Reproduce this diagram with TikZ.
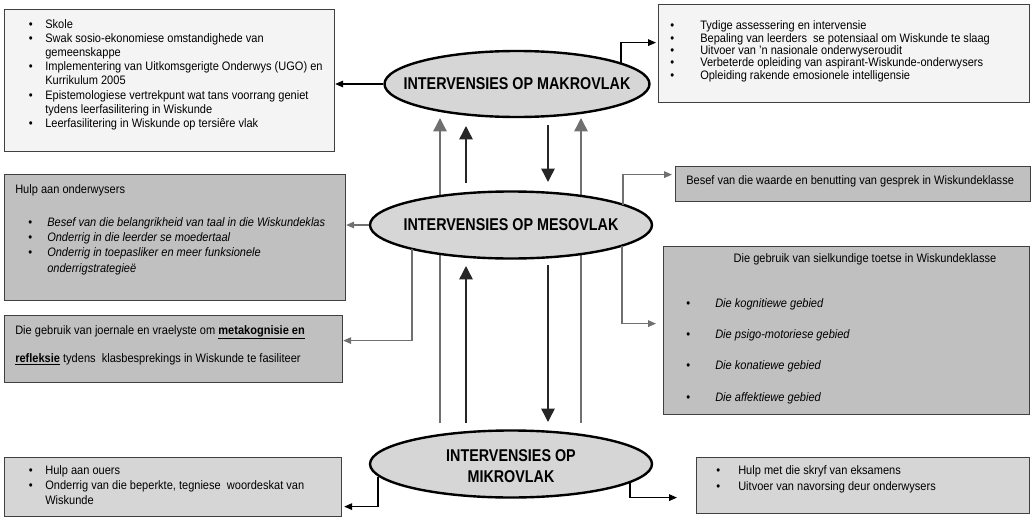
\documentclass[tikz,border=0pt]{standalone}
\usepackage{fontspec}
\setmainfont{Liberation Sans}[FakeStretch=0.9]
\newfontfamily\levelfont{Liberation Sans}[FakeStretch=0.84]
\usepackage{array}
\usetikzlibrary{arrows.meta, shapes.geometric, backgrounds}

\definecolor{lightfill}{HTML}{F4F4F4}
\definecolor{midfill}{HTML}{C0C0C0}
\definecolor{palefill}{HTML}{D6D6D6}
\definecolor{boxline}{HTML}{404040}
\definecolor{linkgray}{HTML}{707070}

\newcommand{\boxfont}[1]{\fontsize{9.2}{#1}\selectfont}

\tikzset{
  infobox/.style={draw=boxline, line width=0.9pt, rectangle, anchor=north west, inner sep=0pt},
  levelnode/.style={ellipse, draw=black, line width=1.8pt, fill=palefill, inner sep=0pt,
    font=\levelfont\fontsize{12.8}{15.75}\selectfont\bfseries},
  itemtext/.style={anchor=north west, inner sep=0pt},
  bigarrow/.style={-{Triangle[length=10pt,width=10pt]}, line width=1.1pt, black!85},
  grayup/.style={-{Triangle[length=10pt,width=10pt]}, line width=1.1pt, linkgray},
  sidearrow/.style={-{Triangle[length=6pt,width=5pt]}, line width=0.8pt},
}

\begin{document}
\begin{tikzpicture}[x=0.75pt, y=-0.75pt]
            \useasboundingbox (0,0) rectangle (1032,518);

            \node[levelnode, minimum width=198.75pt, minimum height=49.5pt] at (517,84)  (makro) {\makebox[0pt]{INTERVENSIES OP MAKROVLAK}};
            \node[levelnode, minimum width=211.5pt, minimum height=50.25pt] at (511,225) (meso)  {\makebox[0pt]{INTERVENSIES OP MESOVLAK}};
            \node[levelnode, minimum width=211.5pt, minimum height=50.25pt] at (511,464) (mikro) {\makebox[0pt]{\raisebox{-3pt}[\height][\depth]{\begin{tabular}{@{}c@{}}INTERVENSIES OP\\MIKROVLAK\end{tabular}}}};

            \node[infobox, fill=lightfill, minimum width=247.5pt,  minimum height=106.5pt] at (4,9)     (b1) {};
            \node[infobox, fill=lightfill, minimum width=278.25pt, minimum height=73.5pt]  at (658,4)   (b5) {};
            \node[infobox, fill=midfill,   minimum width=255.75pt, minimum height=94.5pt]  at (4,174)   (b2) {};
            \node[infobox, fill=midfill,   minimum width=253.5pt,  minimum height=50.25pt] at (4,315)   (b3) {};
            \node[infobox, fill=midfill,   minimum width=266.25pt, minimum height=26.25pt] at (675,166) (b6) {};
            \node[infobox, fill=midfill,   minimum width=274.5pt,  minimum height=126pt]   at (663,246) (b7) {};
            \node[infobox, fill=palefill,  minimum width=252.75pt, minimum height=44.25pt] at (4,457)   (b4) {};
            \node[infobox, fill=palefill,  minimum width=249.75pt, minimum height=42pt]    at (696,457) (b8) {};

            \node[itemtext, font=\boxfont{10.65pt}] at ([shift={(24.5,8.8)}]b1.north west) (t1) {%
              \begin{tabular}{@{}p{12.4pt}@{}l@{}}
              \textbullet & Skole\\
              \textbullet & Swak sosio-ekonomiese omstandighede van\\
                          & gemeenskappe\\
              \textbullet & Implementering van Uitkomsgerigte Onderwys (UGO) en\\
                          & Kurrikulum 2005\\
              \textbullet & Epistemologiese vertrekpunt wat tans voorrang geniet\\
                          & tydens leerfasilitering in Wiskunde\\
              \textbullet & Leerfasilitering in Wiskunde op tersiêre vlak
              \end{tabular}};
            \node[itemtext, font=\boxfont{8.5pt}] at ([shift={(12,16.8)}]b5.north west) (t5) {%
              \begin{tabular}{@{}p{22.5pt}@{}l@{}}
              \textbullet & Tydige assessering en intervensie\\
              \textbullet & Bepaling van leerders\ \ se potensiaal om Wiskunde te slaag\\
              \textbullet & Uitvoer van 'n nasionale onderwyseroudit\\
              \textbullet & Verbeterde opleiding van aspirant-Wiskunde-onderwysers\\
              \textbullet & Opleiding rakende emosionele intelligensie
              \end{tabular}};
            \node[itemtext, font=\boxfont{11.5pt}] at ([shift={(11,8)}]b2.north west) (t2) {%
              \begin{tabular}{@{}p{24pt}@{}l@{}}
              \multicolumn{2}{@{}l@{}}{Hulp aan onderwysers}\\[13.3pt]
              \hspace*{9.75pt}\textbullet & \textit{Besef van die belangrikheid van taal in die Wiskundeklas}\\
              \hspace*{9.75pt}\textbullet & \textit{Onderrig in die leerder se moedertaal}\\
              \hspace*{9.75pt}\textbullet & \textit{Onderrig in toepasliker en meer funksionele}\\
                                          & \textit{onderrigstrategieë}
              \end{tabular}};
            \node[itemtext, font=\boxfont{10.65pt}] at ([shift={(11,8.8)}]b3.north west) (t3) {%
              \begin{tabular}{@{}l@{}}
              Die gebruik van joernale en vraelyste om \textbf{\underline{metakognisie en}}\\[10.35pt]
              \textbf{\underline{refleksie}} tydens\ \ klasbesprekings in Wiskunde te fasiliteer
              \end{tabular}};
            \node[anchor=west, inner sep=0pt, font=\boxfont{10.65pt}] at ([shift={(11,-2.5)}]b6.west) (t6)
              {Besef van die waarde en benutting van gesprek in Wiskundeklasse};
            \node[inner sep=0pt, font=\boxfont{10.65pt}] at ([shift={(202,13)}]b7.north west) (t7)
              {Die gebruik van sielkundige toetse in Wiskundeklasse};
            \node[itemtext, font=\boxfont{23.5pt}] at ([shift={(23,38.8)}]b7.north west) (t7b) {%
              \begin{tabular}{@{}p{21.75pt}@{}l@{}}
              \textbullet & \textit{Die kognitiewe gebied}\\
              \textbullet & \textit{Die psigo-motoriese gebied}\\
              \textbullet & \textit{Die konatiewe gebied}\\
              \textbullet & \textit{Die affektiewe gebied}
              \end{tabular}};
            \node[itemtext, font=\boxfont{11.25pt}] at ([shift={(24.5,7.2)}]b4.north west) (t4) {%
              \begin{tabular}{@{}p{12.4pt}@{}l@{}}
              \textbullet & Hulp aan ouers\\
              \textbullet & Onderrig van die beperkte, tegniese\ \ woordeskat van\\
                          & Wiskunde
              \end{tabular}};
            \node[itemtext, font=\boxfont{12pt}] at ([shift={(20,6.5)}]b8.north west) (t8) {%
              \begin{tabular}{@{}p{16.5pt}@{}l@{}}
              \textbullet & Hulp met die skryf van eksamens\\
              \textbullet & Uitvoer van navorsing deur onderwysers
              \end{tabular}};

            \begin{scope}[on background layer]
              \draw [grayup] ([shift={(-71,-41)}]mikro.center) -- ([shift={(-77,34)}]makro.center);
              \draw [grayup] ([shift={(70,-41)}]mikro.center) -- ([shift={(64,34)}]makro.center);
            \end{scope}
            \draw [bigarrow] ([shift={(-45,-42)}]meso.center) -- ([shift={(-51,42)}]makro.center);
            \draw [bigarrow] ([shift={(-45,-41)}]mikro.center) -- ([shift={(-45,41)}]meso.center);
            \draw [bigarrow] ([shift={(31,41)}]makro.center) -- ([shift={(37,-43)}]meso.center);
            \draw [bigarrow] ([shift={(37,40)}]meso.center) -- ([shift={(37,-42)}]mikro.center);

            \draw [sidearrow, black] (makro.west) -- (makro.west -| b1.east);
            \draw [sidearrow, black] ([shift={(104,-21)}]makro.center) |- ([shift={(-2,-11)}]b5.west);
            \draw [sidearrow, linkgray] (meso.west) -- (meso.west -| b2.east);
            \draw [sidearrow, linkgray] ([shift={(-99,24)}]meso.center) |- ([shift={(0,-8.5)}]b3.east);
            \draw [sidearrow, linkgray] ([shift={(112,-20)}]meso.center) |- ([shift={(-3,-9.5)}]b6.west);
            \draw [sidearrow, linkgray] ([shift={(111,21)}]meso.center) |- ([shift={(-7,-7)}]b7.west);
            \draw [sidearrow, black] ([shift={(-133,13)}]mikro.center) |- ([shift={(2,19.5)}]b4.east);
            \draw [sidearrow, black] ([shift={(119,18)}]mikro.center) |- ([shift={(-19,12)}]b8.west);
        \end{tikzpicture}
\end{document}
